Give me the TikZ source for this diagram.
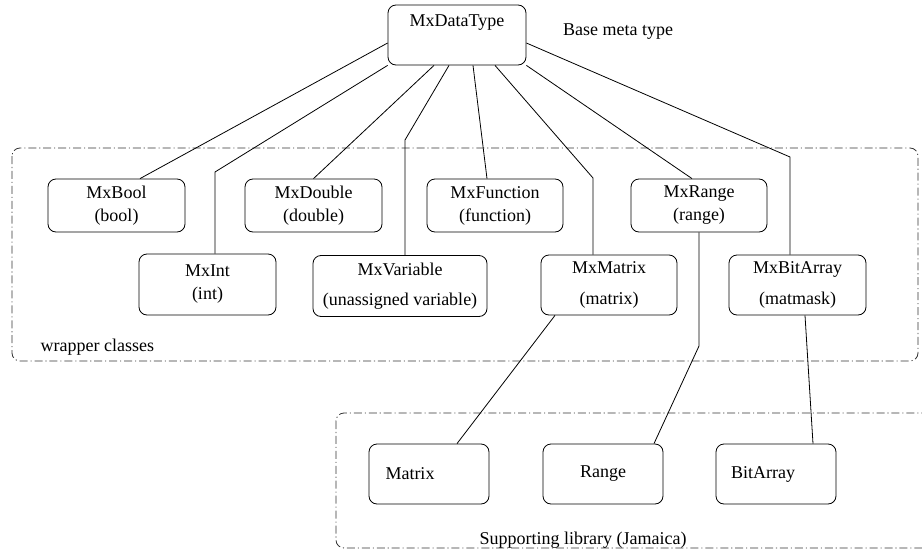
\documentclass[tikz,border=0pt]{standalone}
\usepackage{fontspec}
\setmainfont{Liberation Serif}
\usetikzlibrary{calc}

\begin{document}
\begin{tikzpicture}[
    x=0.75pt, y=-0.75pt,
    font=\rmfamily\fontsize{13.5}{17.25}\selectfont,
    box/.style={draw, line width=0.6pt, rounded corners=6pt, inner sep=0pt,
        align=center, minimum width=102.75pt, minimum height=#1},
    box/.default=39.75pt,
    dashframe/.style={draw=black!80, line width=0.6pt, rounded corners=6pt,
        dash pattern=on 6pt off 2.2pt on 0.8pt off 2.2pt},
    link/.style={line width=0.6pt},
]
\useasboundingbox (0,0) rectangle (922,550);
\clip (0,0) rectangle (922,550);

% ---- Frames ----
\draw[dashframe] (12,148) rectangle (918,361);
\draw[dashframe] (336,413) rectangle (940,548);

% ---- Base type ----
\node[box=45pt, minimum width=103.5pt,
      label={[anchor=north, yshift=-4pt]north:MxDataType}] (base) at (457,35) {};
\node (meta) at (618,32) {Base meta type};

% ---- Wrapper classes ----
\node[box] (mxbool)   at (116.5,205.5) {MxBool\\(bool)};
\node[box] (mxdouble) at (313.5,205.5) {MxDouble\\(double)};
\node[box, minimum width=102pt] (mxfunc) at (495,205.5) {MxFunction\\(function)};
\node[box, minimum width=102pt] (mxrange) at (699,205.5) {MxRange\\(range)};
\node[box=45.75pt] (mxint) at (207.5,284.5) {MxInt\\(int)};
\node[box=45.75pt, minimum width=130.5pt] (mxvar) at (400,286)
    {MxVariable\\[5.5pt](unassigned variable)};
\node[box=45pt, minimum width=102pt] (mxmatrix) at (609,285) {MxMatrix\\[5.5pt](matrix)};
\node[box=45pt] (mxbits) at (797.5,285) {MxBitArray\\[5.5pt](matmask)};
\node[anchor=west] (wrap) at (36,347) {wrapper classes};

% ---- Supporting library ----
\node[box=45pt, minimum width=90pt,
      label={[xshift=-14.25pt]center:Matrix}] (jmatrix) at (429,474) {};
\node[box=45pt, minimum width=90pt] (jrange) at (603,474) {Range};
\node[box=45pt, minimum width=90pt,
      label={[xshift=-9.75pt]center:BitArray}] (jbits) at (776,474) {};
\node (lib) at (583,540) {Supporting library (Jamaica)};

% ---- Bends ----
\coordinate (kint) at (215,172);
\coordinate (kvar) at (405,140);
\coordinate (kmat) at (593,178);
\coordinate (kbits) at (790,157);
\coordinate (krng) at (699,346);

% ---- Links ----
\draw[link] ($(base.west)+(0,8)$) -- ($(mxbool.north)+(23.5,0)$);
\draw[link] (base.south west) -- (kint) -- (kint |- mxint.north);
\draw[link] ($(base.south)+(-23,0)$) -- (mxdouble.north);
\draw[link] ($(base.south)+(-8,0)$) -- (kvar) -- (kvar |- mxvar.north);
\draw[link] ($(base.south)+(16,0)$) -- ($(mxfunc.north)+(-8,0)$);
\draw[link] ($(base.south)+(38,0)$) -- (kmat) -- (kmat |- mxmatrix.north);
\draw[link] (base.south east) -- ($(mxrange.north)+(-7,0)$);
\draw[link] ($(base.east)+(0,8)$) -- (kbits) -- (kbits |- mxbits.north);

\draw[link] ($(mxmatrix.south)+(-54,0)$) -- ($(jmatrix.north)+(28,0)$);
\draw[link] (mxrange.south) -- (krng) -- ($(jrange.north)+(51,0)$);
\draw[link] ($(mxbits.south)+(7.5,0)$) -- ($(jbits.north)+(37,0)$);

\end{tikzpicture}
\end{document}
